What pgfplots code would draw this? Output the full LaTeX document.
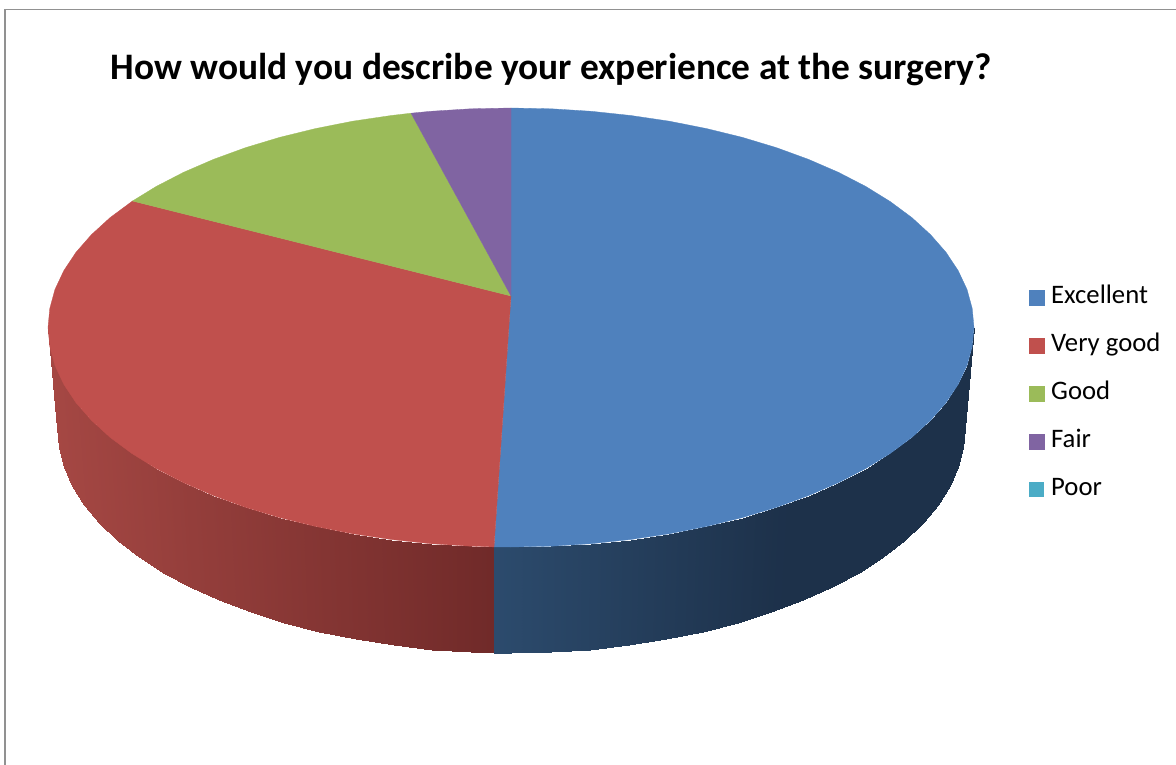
\documentclass[border=0pt]{standalone}
\usepackage{fontspec}
\setmainfont{Carlito}
\usepackage{pgfplots}
\pgfplotsset{compat=1.18}
\definecolor{cBlue}{RGB}{79,129,189}
\definecolor{cRed}{RGB}{192,80,77}
\definecolor{cGreen}{RGB}{155,187,89}
\definecolor{cPurple}{RGB}{128,100,162}
\definecolor{cTeal}{RGB}{75,172,198}
\definecolor{cFrame}{RGB}{145,145,145}
\pgfplotsset{colormap={sides}{rgb255(0pt)=(166,72,68) rgb255(100pt)=(112,42,41) rgb255(101pt)=(44,75,109) rgb255(200pt)=(29,49,74)}}
\begin{document}
\begin{tikzpicture}
\begin{axis}[
  scale only axis, width=1176pt, height=765pt,
  xmin=0, xmax=1176, ymin=0, ymax=765, y dir=reverse,
  hide axis, clip=false,
  colormap name=sides, point meta min=0, point meta max=200,
  legend style={at={(axis cs:1029,285.5)}, anchor=north west, draw=none, fill=none,
    font=\fontsize{26.7}{26.7}\selectfont, row sep=24pt, inner sep=0pt, outer sep=0pt,
    nodes={text height=18pt, text depth=6pt, inner xsep=3pt, inner ysep=0pt}},
  legend cell align=left,
  legend image code/.code={\path[#1,line width=0pt] (0pt,-7.5pt) rectangle (15pt,7.5pt); \path (19pt,0pt);},
]
\path[use as bounding box] (axis cs:0,0) rectangle (axis cs:1176,765);
% frame
\addplot[forget plot, draw=cFrame, line width=1.8pt] coordinates {(5,765) (5,9.5) (1176,9.5)};
% red side wall
\addplot[forget plot, surf, shader=interp, mesh/rows=2, point meta=explicit] coordinates {
(48,327.5)[1.6] (49.8,346.6)[2] (55,365.6)[3] (63.8,384.3)[5] (75.9,402.6)[8] (91.4,420.3)[11] (110,437.3)[15] (131.7,453.4)[20] (156.3,468.6)[25] (183.6,482.7)[32] (213.4,495.6)[38] (245.4,507.3)[45] (279.5,517.6)[53] (315.3,526.4)[61] (352.6,533.8)[69] (391.2,539.5)[77] (430.6,543.7)[86] (470.6,546.2)[95] (494,546.9)[100]
(57,428)[1.6] (58.7,447.6)[2] (63.9,467.1)[3] (72.5,486.2)[5] (84.4,505)[8] (99.5,523.1)[11] (117.8,540.5)[15] (139.1,557.1)[20] (163.2,572.6)[25] (190,587.1)[32] (219.2,600.4)[38] (250.6,612.3)[45] (284,622.9)[53] (319.1,631.9)[61] (355.7,639.4)[69] (393.5,645.3)[77] (432.2,649.6)[86] (471.4,652.1)[95] (494,652.9)[100]
};
% blue side wall
\addplot[forget plot, surf, shader=interp, mesh/rows=2, point meta=explicit] coordinates {
(494,546.9)[101] (511,547)[107] (551.4,546.2)[121] (591.4,543.7)[134] (630.8,539.5)[148] (669.4,533.8)[161] (706.7,526.4)[174] (742.5,517.6)[186] (776.6,507.3)[198] (808.6,495.6)[200] (838.4,482.7)[200] (865.7,468.6)[200] (890.3,453.4)[200] (912,437.3)[200] (930.6,420.3)[200] (946.1,402.6)[200] (958.2,384.3)[200] (967,365.6)[200] (972.2,346.6)[200] (974,327.5)[200]
(494,652.9)[101] (511,653)[107] (550.6,652.1)[121] (589.8,649.6)[134] (628.5,645.3)[148] (666.3,639.4)[161] (702.9,631.9)[174] (738,622.9)[186] (771.4,612.3)[198] (802.8,600.4)[200] (832,587.1)[200] (858.8,572.6)[200] (882.9,557.1)[200] (904.2,540.5)[200] (922.5,523.1)[200] (937.6,505)[200] (949.5,486.2)[200] (958.1,467.1)[200] (963.3,447.6)[200] (965,428)[200]
};
% top slices
\addplot[draw=cBlue, line width=0.3pt, fill=cBlue] coordinates {
(511,296) (511,108) (551.4,108.8) (591.4,111.3) (630.8,115.5) (669.4,121.2) (706.7,128.6) (742.5,137.4) (776.6,147.7) (808.6,159.4) (838.4,172.3) (865.7,186.4) (890.3,201.6) (912,217.7) (930.6,234.7) (946.1,252.4) (958.2,270.7) (967,289.4) (972.2,308.4) (974,327.5) (972.2,346.6) (967,365.6) (958.2,384.3) (946.1,402.6) (930.6,420.3) (912,437.3) (890.3,453.4) (865.7,468.6) (838.4,482.7) (808.6,495.6) (776.6,507.3) (742.5,517.6) (706.7,526.4) (669.4,533.8) (630.8,539.5) (591.4,543.7) (551.4,546.2) (511,547) (494,546.9) (511,296)};
\addlegendentry{Excellent}
\addplot[draw=cRed, line width=0.3pt, fill=cRed] coordinates {
(511,296) (494,546.9) (470.6,546.2) (430.6,543.7) (391.2,539.5) (352.6,533.8) (315.3,526.4) (279.5,517.6) (245.4,507.3) (213.4,495.6) (183.6,482.7) (156.3,468.6) (131.7,453.4) (110,437.3) (91.4,420.3) (75.9,402.6) (63.8,384.3) (55,365.6) (49.8,346.6) (48,327.5) (49.8,308.4) (55,289.4) (63.8,270.7) (75.9,252.4) (91.4,234.7) (110,217.7) (132.5,201) (511,296)};
\addlegendentry{Very good}
\addplot[draw=cGreen, line width=0.3pt, fill=cGreen] coordinates {
(511,296) (132.5,201) (156.3,186.4) (183.6,172.3) (213.4,159.4) (245.4,147.7) (279.5,137.4) (315.3,128.6) (352.6,121.2) (391.2,115.5) (411,113.2) (511,296)};
\addlegendentry{Good}
\addplot[draw=cPurple, line width=0.3pt, fill=cPurple] coordinates {
(511,296) (411,113.2) (430.6,111.3) (470.6,108.8) (511,108) (511,296)};
\addlegendentry{Fair}
\addplot[draw=none, fill=cTeal] coordinates {(511,296) (511,296) (511,296)};
\addlegendentry{Poor}
\node[anchor=base, inner sep=0pt, font=\fontsize{37.4}{37.4}\selectfont\bfseries] at (axis cs:551,79.5) {How would you describe your experience at the surgery?};
\end{axis}
\end{tikzpicture}
\end{document}
